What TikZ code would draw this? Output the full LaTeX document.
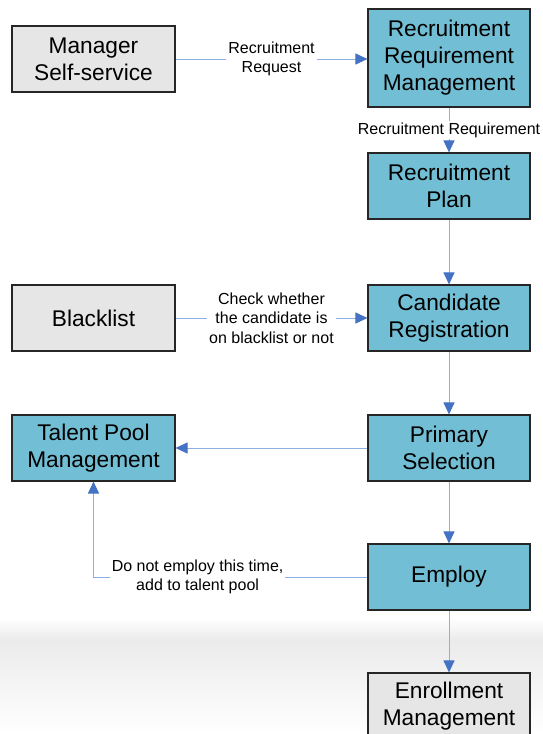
\documentclass[tikz,border=0pt]{standalone}
\usepackage{fontspec}
\setmainfont{Liberation Sans}
\usetikzlibrary{arrows.meta}

\definecolor{boxteal}{RGB}{114,190,212}
\definecolor{boxgrey}{RGB}{230,230,230}
\definecolor{flowline}{RGB}{141,176,226}
\definecolor{flowtip}{RGB}{68,114,196}

\tikzset{
  procbox/.style={draw=black!85, line width=1.1pt, fill=boxteal, minimum width=162pt,
    minimum height=66pt, inner sep=0pt, align=center, font=\fontsize{22.7}{27}\selectfont},
  extbox/.style={procbox, fill=boxgrey},
  flow/.style={draw=flowline, line width=1pt, -{Triangle[length=12pt,width=11pt,color=flowtip]}},
  flowlabel/.style={fill=white, inner sep=2pt, align=center, font=\fontsize{16}{19.5}\selectfont}
}

\begin{document}
\begin{tikzpicture}[x=1pt, y=-1pt]
            \useasboundingbox (0,0) rectangle (543,734);

            % faint shadow band at the bottom
            \shade[top color=white, bottom color=black!8] (0,618) rectangle (543,640);
            \shade[top color=black!8, bottom color=white] (0,640) rectangle (543,734);

            % main column
            \node[procbox, minimum height=98pt] (reqmgmt) at (449,58) {Recruitment\\Requirement\\Management};
            \node[procbox] (plan) at (449,186) {Recruitment\\Plan};
            \node[procbox] (cand) at (449,318) {Candidate\\Registration};
            \node[procbox] (prim) at (449,448) {Primary\\Selection};
            \node[procbox] (employ) at (449,577) {Employ};
            \node[extbox] (enroll) at (449,706) {Enrollment\\Management};

            % left column
            \node[extbox, minimum width=163pt] (mss) at (93.5,59) {Manager\\Self-service};
            \node[extbox, minimum width=163pt] (black) at (93.5,318) {Blacklist};
            \node[procbox, minimum width=163pt] (talent) at (93.5,448) {Talent Pool\\Management};

            % connectors
            \draw[flow] (mss.east) -- node[flowlabel] {Recruitment\\Request} (mss.east -| reqmgmt.west);
            \draw[flow] (reqmgmt) -- node[flowlabel] {Recruitment Requirement} (plan);
            \draw[flow] (plan) -- (cand);
            \draw[flow] (black.east) -- node[flowlabel] {Check whether\\the candidate is\\on blacklist or not} (cand.west);
            \draw[flow] (cand) -- (prim);
            \draw[flow] (prim.west) -- (talent.east);
            \draw[flow] (prim) -- (employ);
            \draw[flow] (employ.west) -- node[flowlabel, pos=0.62] {Do not employ this time,\\add to talent pool} (employ.west -| talent.south) -- (talent.south);
            \draw[flow] (employ) -- (enroll);
        \end{tikzpicture}
\end{document}
